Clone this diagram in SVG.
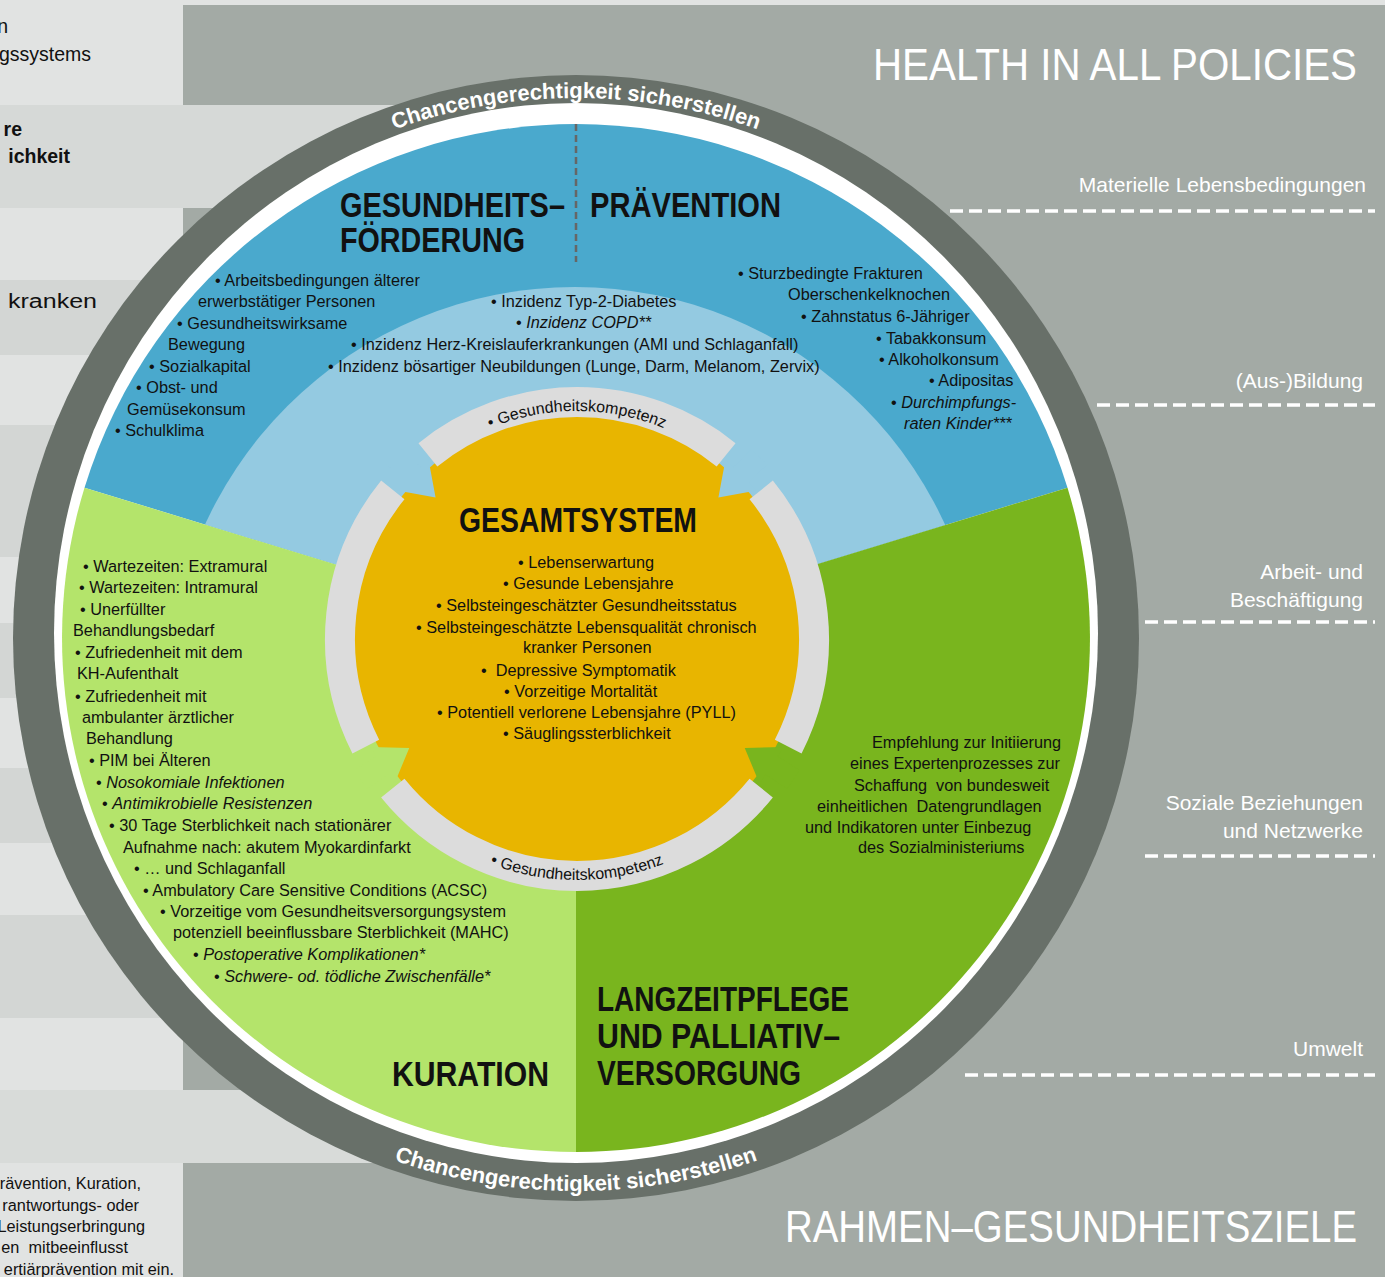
<svg xmlns="http://www.w3.org/2000/svg" width="1385" height="1277" viewBox="0 0 1385 1277">
<defs>
<style>
text{font-family:"Liberation Sans",Arial,sans-serif;}
.b{font-size:16.3px;fill:#111;}
.i{font-style:italic;}
.h{font-size:35px;font-weight:bold;fill:#111;}
.w{font-size:21px;fill:#fff;}
.big{font-size:44px;fill:#fff;}
.ring{font-size:22px;font-weight:bold;fill:#fff;}
.gk{font-size:16px;fill:#111;}
.lt{font-size:19.5px;fill:#111;}
.dash{stroke:#fff;stroke-width:3.5;stroke-dasharray:13 6;fill:none;}
.garc{fill:none;stroke:#dcdcdc;stroke-width:30;}
.pre{white-space:pre;}
.band{fill:#d3d6d4;}
</style>
<clipPath id="blueClip"><path d="M576,638 L84.5,487.7 A514,514 0 0,1 1067.5,487.7 Z"/></clipPath>
<path id="ringTop" d="M36,638 A540,540 0 0,1 1116,638"/>
<path id="ringBot" d="M23,638 A553,553 0 0,0 1129,638"/>
<path id="gkTop" d="M349,639 A228,228 0 0,1 805,639"/>
<path id="gkBot" d="M336,639 A241,241 0 0,0 818,639"/>
<polygon id="arrow" points="835,628 809,628 809,617 777,639 809,661 809,650 835,650"/>
</defs>

<g id="background">
<rect x="0" y="0" width="1385" height="1277" fill="#e1e3e2"/>
<rect x="183" y="5" width="1202" height="1272" fill="#a3aaa5"/>
<rect class="band" x="0" y="280" width="183" height="75"/>
<rect class="band" x="0" y="425" width="183" height="132"/>
<rect class="band" x="0" y="623" width="183" height="75"/>
<rect class="band" x="0" y="768" width="183" height="75"/>
<rect class="band" x="0" y="915" width="183" height="103"/>
<rect x="0" y="105" width="576" height="103" fill="#d6d9d7"/>
<rect x="0" y="1090" width="576" height="73" fill="#d8dbd9"/>
</g>

<g id="left-table-text">
<text class="lt" x="8" y="33" text-anchor="end">n</text>
<text class="lt" x="91" y="61" text-anchor="end">gssystems</text>
<text class="lt" x="22" y="136" text-anchor="end" font-weight="bold" font-size="22">re</text>
<text class="lt" x="70" y="163" text-anchor="end" font-weight="bold" font-size="22">ichkeit</text>
<text class="lt" x="97" y="308" text-anchor="end" font-size="22" textLength="89" lengthAdjust="spacingAndGlyphs">kranken</text>
<text class="b" x="141" y="1189" text-anchor="end">rävention, Kuration,</text>
<text class="b" x="139" y="1211" text-anchor="end">rantwortungs- oder</text>
<text class="b" x="145" y="1232" text-anchor="end">Leistungserbringung</text>
<text class="b pre" x="128" y="1253" text-anchor="end">en  mitbeeinflusst</text>
<text class="b" x="174" y="1275" text-anchor="end">ertiärprävention mit ein.</text>
</g>

<g id="hiap-labels">
<text class="big" x="1357" y="80" text-anchor="end" textLength="484" lengthAdjust="spacingAndGlyphs">HEALTH IN ALL POLICIES</text>
<text class="big" x="1357" y="1242" text-anchor="end" textLength="572" lengthAdjust="spacingAndGlyphs">RAHMEN–GESUNDHEITSZIELE</text>
<text class="w" x="1366" y="192" text-anchor="end">Materielle Lebensbedingungen</text>
<line class="dash" x1="950" y1="211" x2="1375" y2="211"/>
<text class="w" x="1363" y="388" text-anchor="end">(Aus-)Bildung</text>
<line class="dash" x1="1097" y1="405" x2="1375" y2="405"/>
<text class="w" x="1363" y="579" text-anchor="end">Arbeit- und</text>
<text class="w" x="1363" y="607" text-anchor="end">Beschäftigung</text>
<line class="dash" x1="1145" y1="622" x2="1375" y2="622"/>
<text class="w" x="1363" y="810" text-anchor="end">Soziale Beziehungen</text>
<text class="w" x="1363" y="838" text-anchor="end">und Netzwerke</text>
<line class="dash" x1="1145" y1="856" x2="1375" y2="856"/>
<text class="w" x="1363" y="1056" text-anchor="end">Umwelt</text>
<line class="dash" x1="965" y1="1075" x2="1375" y2="1075"/>
</g>

<g id="outer-ring">
<circle cx="576" cy="638" r="563" fill="#687069"/>
<ellipse cx="576" cy="633" rx="522" ry="530" fill="#ffffff"/>
<text class="ring"><textPath href="#ringTop" startOffset="50%" text-anchor="middle">Chancengerechtigkeit sicherstellen</textPath></text>
<text class="ring"><textPath href="#ringBot" startOffset="50%" text-anchor="middle">Chancengerechtigkeit sicherstellen</textPath></text>
</g>

<g id="sector-foerderung-praevention">
<path d="M576,638 L84.5,487.7 A514,514 0 0,1 1067.5,487.7 Z" fill="#4aa9cd"/>
<circle cx="575" cy="694" r="407" fill="#94cae1" clip-path="url(#blueClip)"/>
<line x1="576" y1="124" x2="576" y2="262" stroke="#666" stroke-width="2.5" stroke-dasharray="7 4"/>
<text class="h" x="340" y="217" textLength="225" lengthAdjust="spacingAndGlyphs">GESUNDHEITS–</text>
<text class="h" x="340" y="252" textLength="185" lengthAdjust="spacingAndGlyphs">FÖRDERUNG</text>
<text class="h" x="590" y="217" textLength="191" lengthAdjust="spacingAndGlyphs">PRÄVENTION</text>
<text class="b" x="215" y="286">• Arbeitsbedingungen älterer</text>
<text class="b" x="198" y="307">erwerbstätiger Personen</text>
<text class="b" x="177" y="329">• Gesundheitswirksame</text>
<text class="b" x="168" y="350">Bewegung</text>
<text class="b" x="149" y="372">• Sozialkapital</text>
<text class="b" x="136" y="393">• Obst- und</text>
<text class="b" x="127" y="415">Gemüsekonsum</text>
<text class="b" x="115" y="436">• Schulklima</text>
<text class="b" x="491" y="307">• Inzidenz Typ-2-Diabetes</text>
<text class="b" x="516" y="328">• <tspan class="i">Inzidenz COPD**</tspan></text>
<text class="b" x="351" y="350">• Inzidenz Herz-Kreislauferkrankungen (AMI und Schlaganfall)</text>
<text class="b" x="328" y="372">• Inzidenz bösartiger Neubildungen (Lunge, Darm, Melanom, Zervix)</text>
<text class="b" x="738" y="279">• Sturzbedingte Frakturen</text>
<text class="b" x="788" y="300">Oberschenkelknochen</text>
<text class="b" x="801" y="322">• Zahnstatus 6-Jähriger</text>
<text class="b" x="876" y="344">• Tabakkonsum</text>
<text class="b" x="879" y="365">• Alkoholkonsum</text>
<text class="b" x="929" y="386">• Adipositas</text>
<text class="b" x="891" y="408">• <tspan class="i">Durchimpfungs-</tspan></text>
<text class="b i" x="904" y="429">raten Kinder***</text>
</g>

<g id="sector-kuration">
<path d="M576,638 L576,1152 A514,514 0 0,1 84.5,487.7 Z" fill="#b4e46b"/>
<text class="h" x="392" y="1086" textLength="157" lengthAdjust="spacingAndGlyphs">KURATION</text>
<text class="b" x="83" y="572">• Wartezeiten: Extramural</text>
<text class="b" x="79" y="593">• Wartezeiten: Intramural</text>
<text class="b" x="80" y="615">• Unerfüllter</text>
<text class="b" x="73" y="636">Behandlungsbedarf</text>
<text class="b" x="75" y="658">• Zufriedenheit mit dem</text>
<text class="b" x="77" y="679">KH-Aufenthalt</text>
<text class="b" x="75" y="702">• Zufriedenheit mit</text>
<text class="b" x="82" y="723">ambulanter ärztlicher</text>
<text class="b" x="86" y="744">Behandlung</text>
<text class="b" x="89" y="766">• PIM bei Älteren</text>
<text class="b" x="96" y="788">• <tspan class="i">Nosokomiale Infektionen</tspan></text>
<text class="b" x="102" y="809">• <tspan class="i">Antimikrobielle Resistenzen</tspan></text>
<text class="b" x="109" y="831">• 30 Tage Sterblichkeit nach stationärer</text>
<text class="b" x="123" y="853">Aufnahme nach: akutem Myokardinfarkt</text>
<text class="b" x="134" y="874">• … und Schlaganfall</text>
<text class="b" x="143" y="896">• Ambulatory Care Sensitive Conditions (ACSC)</text>
<text class="b" x="160" y="917">• Vorzeitige vom Gesundheitsversorgungsystem</text>
<text class="b" x="173" y="938">potenziell beeinflussbare Sterblichkeit (MAHC)</text>
<text class="b" x="193" y="960">• <tspan class="i">Postoperative Komplikationen*</tspan></text>
<text class="b" x="214" y="982">• <tspan class="i">Schwere- od. tödliche Zwischenfälle*</tspan></text>
</g>

<g id="sector-langzeitpflege">
<path d="M576,638 L1067.5,487.7 A514,514 0 0,1 576,1152 Z" fill="#79b51e"/>
<text class="h" x="597" y="1011" textLength="252" lengthAdjust="spacingAndGlyphs">LANGZEITPFLEGE</text>
<text class="h" x="597" y="1048" textLength="243" lengthAdjust="spacingAndGlyphs">UND PALLIATIV–</text>
<text class="h" x="597" y="1085" textLength="204" lengthAdjust="spacingAndGlyphs">VERSORGUNG</text>
<text class="b" x="872" y="748">Empfehlung zur Initiierung</text>
<text class="b" x="850" y="769">eines Expertenprozesses zur</text>
<text class="b pre" x="854" y="791">Schaffung  von bundesweit</text>
<text class="b pre" x="817" y="812">einheitlichen  Datengrundlagen</text>
<text class="b" x="805" y="833">und Indikatoren unter Einbezug</text>
<text class="b" x="858" y="853">des Sozialministeriums</text>
</g>

<g id="gesamtsystem">
<circle cx="577" cy="639" r="226" fill="#e8b500"/>
<text class="h" x="459" y="532" textLength="238" lengthAdjust="spacingAndGlyphs">GESAMTSYSTEM</text>
<text class="b" x="518" y="568">• Lebenserwartung</text>
<text class="b" x="503" y="589">• Gesunde Lebensjahre</text>
<text class="b" x="436" y="611">• Selbsteingeschätzter Gesundheitsstatus</text>
<text class="b" x="416" y="633">• Selbsteingeschätzte Lebensqualität chronisch</text>
<text class="b" x="523" y="653">kranker Personen</text>
<text class="b pre" x="481" y="676">•  Depressive Symptomatik</text>
<text class="b" x="504" y="697">• Vorzeitige Mortalität</text>
<text class="b" x="437" y="718">• Potentiell verlorene Lebensjahre (PYLL)</text>
<text class="b" x="503" y="739">• Säuglingssterblichkeit</text>
</g>

<g id="connectors">
<path class="garc" d="M427.9,454.8 A237,237 0 0,1 726.1,454.8"/>
<path class="garc" d="M761.2,489.9 A237,237 0 0,1 788.2,746.6"/>
<path class="garc" d="M761.2,788.1 A237,237 0 0,1 392.8,788.1"/>
<path class="garc" d="M365.8,746.6 A237,237 0 0,1 392.8,489.9"/>
<use href="#arrow" fill="#94cae1" transform="rotate(225 577 639)"/>
<use href="#arrow" fill="#94cae1" transform="rotate(315 577 639)"/>
<use href="#arrow" fill="#b4e46b" transform="rotate(147 577 639)"/>
<use href="#arrow" fill="#79b51e" transform="rotate(33 577 639)"/>
<text class="gk"><textPath href="#gkTop" startOffset="50%" text-anchor="middle">• Gesundheitskompetenz</textPath></text>
<text class="gk"><textPath href="#gkBot" startOffset="50%" text-anchor="middle">• Gesundheitskompetenz</textPath></text>
</g>
</svg>
